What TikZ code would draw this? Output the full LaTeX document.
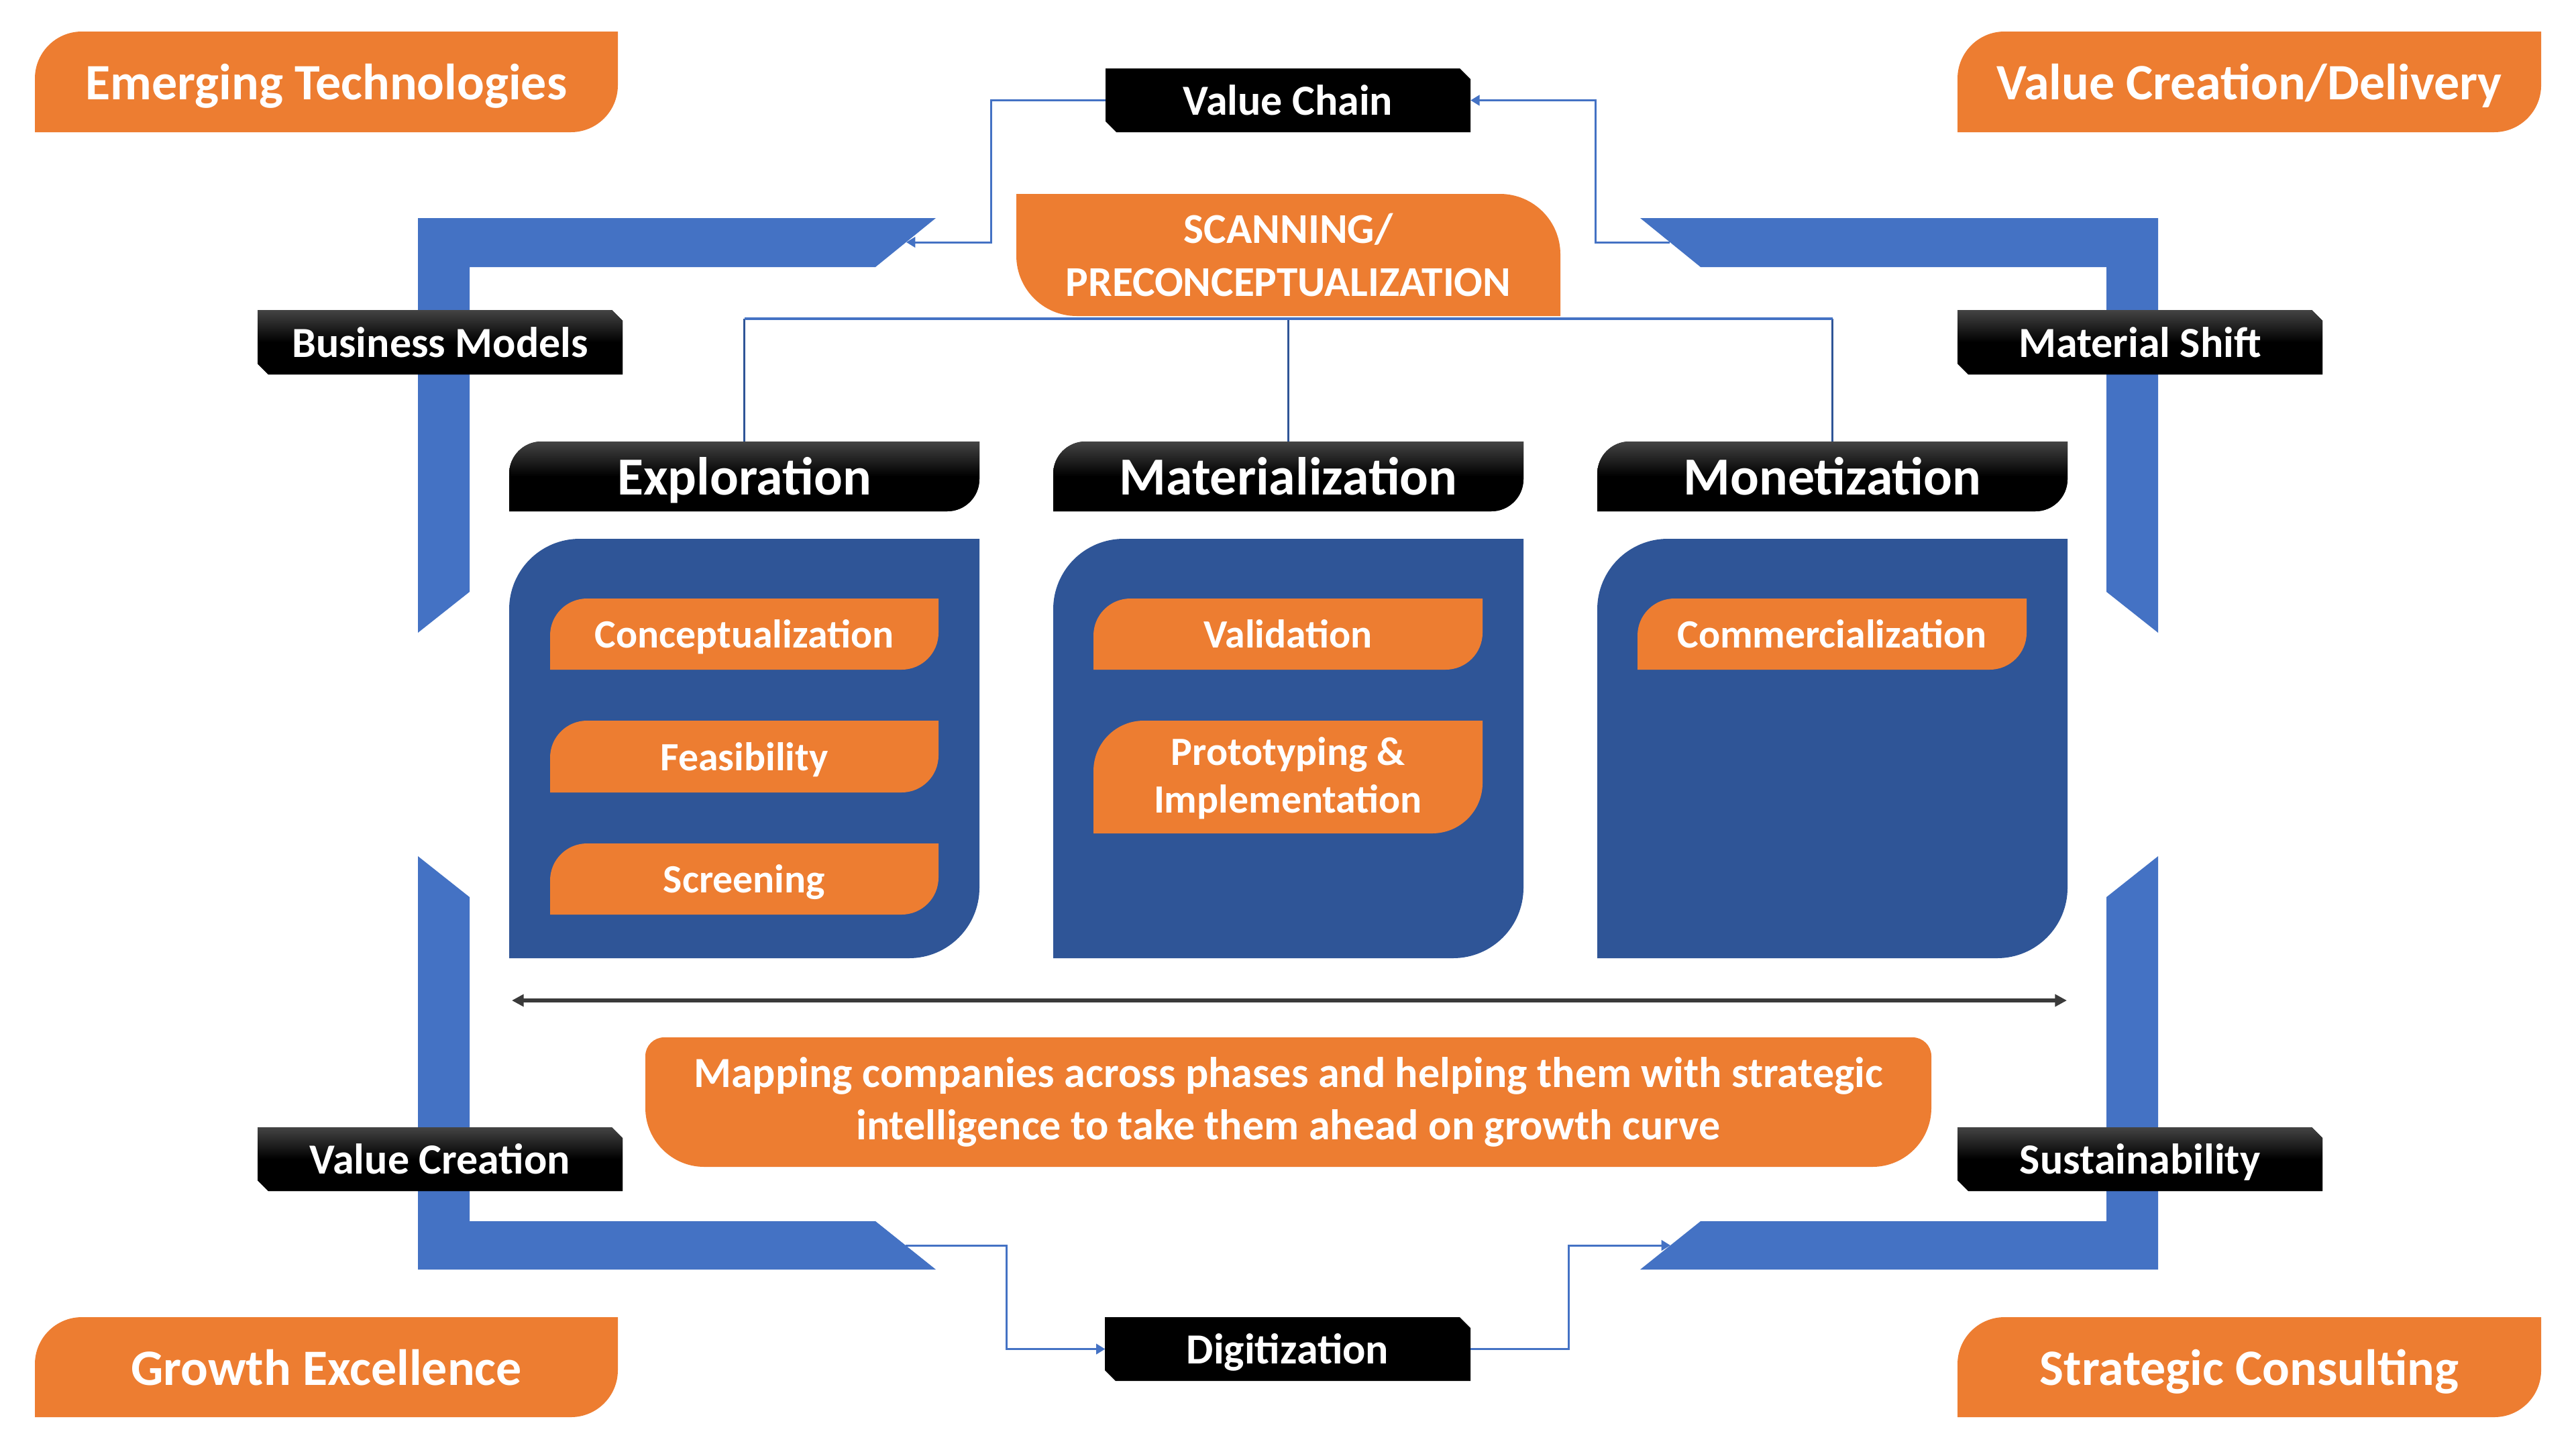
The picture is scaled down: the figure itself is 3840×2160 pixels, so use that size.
\documentclass[tikz,border=0pt]{standalone}
\usepackage{fontspec}
\setmainfont{Carlito}
\usetikzlibrary{arrows.meta,calc}
\definecolor{orng}{HTML}{ED7D31}
\definecolor{frameblue}{HTML}{4472C4}
\definecolor{panelblue}{HTML}{2F5597}
\definecolor{darkg}{HTML}{444444}
\definecolor{arrowg}{HTML}{3A3A3A}
\newcommand\szCorner{\bfseries\fontsize{21.6pt}{26pt}\selectfont}
\newcommand\szBlack{\bfseries\fontsize{18.2pt}{22pt}\selectfont}
\newcommand\szHead{\bfseries\fontsize{22.7pt}{27pt}\selectfont}
\newcommand\szItem{\bfseries\fontsize{17pt}{20.2pt}\selectfont}
\newcommand\szScan{\bfseries\fontsize{18pt}{22.2pt}\selectfont}
\newcommand\szMap{\bfseries\fontsize{18.2pt}{22.2pt}\selectfont}
% round-diagonal: top-left and bottom-right rounded
\newcommand\RDiag[6]{\fill[#1] (#2,#5) -- (#2,#3+#6) arc[start angle=180,end angle=270,radius=#6] -- (#4,#3) -- (#4,#5-#6) arc[start angle=0,end angle=90,radius=#6] -- cycle;}
% round-diagonal: top-right and bottom-left rounded
\newcommand\RDiagB[6]{\fill[#1] (#2,#3) -- (#4-#6,#3) arc[start angle=270,end angle=360,radius=#6] -- (#4,#5) -- (#2+#6,#5) arc[start angle=90,end angle=180,radius=#6] -- cycle;}
% snipped top-right and bottom-left corners
\newcommand\Snip[6]{\fill[#1] (#2,#3) -- (#4-#6,#3) -- (#4,#3+#6) -- (#4,#5) -- (#2+#6,#5) -- (#2,#5-#6) -- cycle;}
\begin{document}
\begin{tikzpicture}[x=0.01cm,y=-0.01cm,
  lbl/.style={text=white, inner sep=0pt, outer sep=0pt},
  corner/.style={lbl, font=\szCorner, minimum width=8.69cm, minimum height=1.5cm, text height=15.1pt, text depth=0pt},
  blk/.style={lbl, font=\szBlack, minimum width=5.44cm, minimum height=0.95cm, text height=12.7pt, text depth=0pt},
  head/.style={lbl, font=\szHead, minimum width=7.01cm, minimum height=1.04cm, text height=15.9pt, text depth=0pt},
  item/.style={lbl, font=\szItem, minimum width=5.79cm, minimum height=1.06cm, text height=11.9pt, text depth=0pt},
  conn/.style={draw=frameblue, line width=0.85pt, -{Triangle[length=3.8pt,width=4.4pt]}},
  treeH/.style={draw=frameblue, line width=0.9pt},
  treeV/.style={draw=panelblue, line width=0.9pt},
  grad/.style={top color=darkg, bottom color=black, middle color=black}]
\useasboundingbox (0,0) rectangle (3840,2160);
\fill[white] (0,0) rectangle (3840,2160);

% ---- blue frame corners ----
\fill[frameblue] (623,943) -- (623,325) -- (1395,325) -- (1305,398) -- (700,398) -- (700,882) -- cycle;
\fill[frameblue] (3217,943) -- (3217,325) -- (2445,325) -- (2535,398) -- (3140,398) -- (3140,882) -- cycle;
\fill[frameblue] (623,1276) -- (623,1892) -- (1395,1892) -- (1305,1820) -- (700,1820) -- (700,1337) -- cycle;
\fill[frameblue] (3217,1276) -- (3217,1892) -- (2445,1892) -- (2535,1820) -- (3140,1820) -- (3140,1337) -- cycle;
\coordinate (tlS) at (1351,361);
\coordinate (trS) at (2489,361);
\coordinate (blS) at (1350,1856);
\coordinate (brS) at (2490,1856);

% ---- corner orange labels ----
\RDiag{orng}{52}{47}{921}{197}{70}
\node[corner] (emtech) at (486.5,122) {Emerging Technologies};
\RDiag{orng}{2918}{47}{3788}{197}{70}
\node[corner] (vcd) at (3353,122) {Value Creation/Delivery};
\RDiag{orng}{52}{1963}{921}{2112}{70}
\node[corner] (growth) at (486.5,2037.5) {Growth Excellence};
\RDiag{orng}{2918}{1963}{3788}{2112}{70}
\node[corner] (strat) at (3353,2037.5) {Strategic Consulting};

% ---- black side labels ----
\Snip{grad}{384}{462}{928}{558}{16}
\node[blk] (bm) at (656,510) {Business Models};
\Snip{grad}{2918}{462}{3462}{558}{16}
\node[blk] (ms) at (3190,510) {Material Shift};
\Snip{grad}{384}{1680}{928}{1775}{16}
\node[blk] (vcr) at (656,1727.5) {Value Creation};
\Snip{grad}{2918}{1680}{3462}{1775}{16}
\node[blk] (sus) at (3190,1727.5) {Sustainability};
\Snip{black}{1648}{102}{2192}{197}{16}
\node[blk] (vc) at (1920,149.5) {Value Chain};
\Snip{black}{1647}{1963}{2192}{2058}{16}
\node[blk] (dg) at (1919.5,2010.5) {Digitization};

% ---- connectors around frame ----
\draw[conn] (vc.west) -| ([xshift=1.26cm]tlS) -- (tlS);
\draw[conn] (trS) -- ([xshift=-1.1cm]trS) |- (vc.east);
\draw[conn] (blS) -- ([xshift=1.5cm]blS) |- (dg.west);
\draw[conn] (dg.east) -| ([xshift=-1.51cm]brS) -- (brS);

% ---- scanning box ----
\RDiagB{orng}{1515}{289}{2326}{471}{90}
\node[lbl, font=\szScan, align=center, minimum width=8.11cm, minimum height=1.82cm] (scan) at (1920.5,380) {SCANNING/\\PRECONCEPTUALIZATION};

% ---- phase headers ----
\RDiag{grad}{759}{658}{1460}{762}{48}
\node[head] (exp) at (1109.5,710) {Exploration};
\RDiag{grad}{1570}{658}{2271}{762}{48}
\node[head] (mat) at (1920.5,710) {Materialization};
\RDiag{grad}{2381}{658}{3082}{762}{48}
\node[head] (mon) at (2731.5,710) {Monetization};

% ---- tree lines ----
\coordinate (tj) at ([yshift=-0.04cm]scan.south);
\draw[treeV] (exp.north |- tj) -- (exp.north);
\draw[treeV] (tj) -- (mat.north);
\draw[treeV] (mon.north |- tj) -- (mon.north);
\draw[treeH] (exp.north |- tj) -- (mon.north |- tj);

% ---- panels ----
\RDiag{panelblue}{759}{803}{1460}{1428}{105}
\RDiag{panelblue}{1570}{803}{2271}{1428}{105}
\RDiag{panelblue}{2381}{803}{3082}{1428}{105}

% ---- items ----
\RDiag{orng}{820}{892}{1399}{998}{55}
\node[item] (conc) at (1109.5,945) {Conceptualization};
\RDiag{orng}{820}{1074}{1399}{1181}{55}
\node[item] (feas) at (1109.5,1127.5) {Feasibility};
\RDiag{orng}{820}{1257}{1399}{1363}{55}
\node[item] (scr) at (1109.5,1310) {Screening};
\RDiag{orng}{1630}{892}{2210}{998}{55}
\node[item] (val) at (1920,945) {Validation};
\RDiag{orng}{1630}{1074}{2210}{1242}{75}
\node[lbl, font=\szItem, align=center] (proto) at (1920,1160) {Prototyping \&\\Implementation};
\RDiag{orng}{2441}{892}{3021}{998}{55}
\node[item] (comm) at (2731,945) {Commercialization};

% ---- double arrow ----
\coordinate (arL) at (763,1491);
\coordinate (arR) at (3081,1491);
\draw[arrowg, line width=1.6pt, {Triangle[length=5pt,width=5pt]}-{Triangle[length=5pt,width=5pt]}] (arL) -- (arR);

% ---- mapping box ----
\fill[orng] (962+28,1546) -- (2879-28,1546) arc[start angle=270,end angle=360,radius=28] -- (2879,1739-88) arc[start angle=0,end angle=90,radius=88] -- (962+88,1739) arc[start angle=90,end angle=180,radius=88] -- (962,1546+28) arc[start angle=180,end angle=270,radius=28] -- cycle;
\node[lbl, font=\szMap, align=center] (map) at (1920.5,1642.5) {Mapping companies across phases and helping them with strategic\\intelligence to take them ahead on growth curve};
\end{tikzpicture}
\end{document}
